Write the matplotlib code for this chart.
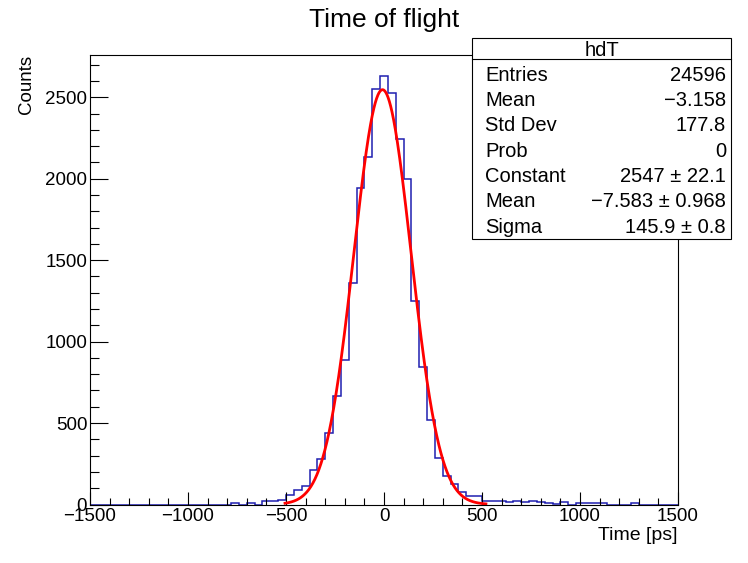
import numpy as np
import matplotlib
matplotlib.use('Agg')
import matplotlib.pyplot as plt
from matplotlib.patches import Rectangle
from matplotlib.lines import Line2D
from matplotlib.ticker import MultipleLocator

plt.rcParams['font.family'] = ['Liberation Sans', 'DejaVu Sans']

# ---------------- data ----------------
bin_lo, bin_hi, bin_width = -1500, 1500, 40
counts = [0] * 18 + [
    7, 0, 7, 0, 22, 22, 30, 57, 88, 112,
    212, 277, 440, 664, 886, 1358, 1943, 2133, 2553, 2629,
    2529, 2242, 1996, 1252, 846, 519, 284, 175, 125, 74,
    50, 50, 23, 23, 22, 13, 22, 17, 22, 14,
    12, 6, 14, 0, 7, 7, 7, 7, 0, 0,
    0, 7, 0, 0, 0, 0, 0,
]
fit_constant, fit_mean, fit_sigma = 2547.0, -7.583, 145.9
fit_range = (-505, 520)

stats_title = "hdT"
stats_names = ["Entries", "Mean", "Std Dev", "Prob", "Constant", "Mean", "Sigma"]
stats_values = ["24596", "\u22123.158", "177.8", "0", "2547 \u00b1 22.1",
                "\u22127.583 \u00b1 0.968", "145.9 \u00b1 0.8"]

x_ticks = [-1500, -1000, -500, 0, 500, 1000, 1500]
y_ticks = [0, 500, 1000, 1500, 2000, 2500]

# ---------------- figure ----------------
W, H = 748, 563
fig = plt.figure(figsize=(W / 100, H / 100), dpi=100)
fx = lambda x: x / W
fy = lambda y: 1 - y / H

ax_l, ax_r, ax_t, ax_b = 90, 678, 55, 504.5
ax = fig.add_axes([fx(ax_l), fy(ax_b), (ax_r - ax_l) / W, (ax_b - ax_t) / H])

edges = np.arange(bin_lo, bin_hi + bin_width / 2, bin_width)
ax.stairs(counts, edges, color='#1f1fb0', lw=1.1, baseline=0)

xf = np.linspace(fit_range[0], fit_range[1], 600)
yf = fit_constant * np.exp(-0.5 * ((xf - fit_mean) / fit_sigma) ** 2)
ax.plot(xf, yf, color='#ff0000', lw=2.0)

ax.set_xlim(bin_lo, bin_hi)
ax.set_ylim(0, 2760)
ax.set_xticks(x_ticks)
ax.set_yticks(y_ticks)
ax.xaxis.set_minor_locator(MultipleLocator(100))
ax.yaxis.set_minor_locator(MultipleLocator(100))
ax.tick_params(axis='both', which='both', direction='in', top=False, right=False,
               width=0.8, labelsize=13.5)
ax.tick_params(axis='x', which='major', length=9.4, pad=2.5)
ax.tick_params(axis='x', which='minor', length=4.7)
ax.tick_params(axis='y', which='major', length=13, pad=2)
ax.tick_params(axis='y', which='minor', length=6.5)
for s in ax.spines.values():
    s.set_linewidth(0.8)

# titles
fig.text(fx((ax_l + ax_r) / 2), fy(26.7), "Time of flight", ha='center',
         va='baseline', fontsize=19)
fig.text(fx(677), fy(540), "Time [ps]", ha='right', va='baseline', fontsize=14)
fig.text(fx(26), fy(55), "Counts", rotation=90, ha='center', va='top', fontsize=13.5)

# stats box
bx0, bx1, by0, by1 = 472, 731, 37.5, 238.5
fig.patches.append(Rectangle((fx(bx0), fy(by1)), (bx1 - bx0) / W, (by1 - by0) / H,
                             transform=fig.transFigure, facecolor='white',
                             edgecolor='black', lw=0.8, zorder=10))
fig.lines.append(Line2D([fx(bx0), fx(bx1)], [fy(59.3), fy(59.3)],
                        transform=fig.transFigure, color='black', lw=0.8, zorder=11))
fig.text(fx((bx0 + bx1) / 2), fy(56.5), stats_title, ha='center', va='baseline',
         fontsize=14.5, zorder=12)
for i, (n, v) in enumerate(zip(stats_names, stats_values)):
    yb = 80.7 + i * 25.33
    fig.text(fx(485), fy(yb), n, ha='left', va='baseline', fontsize=14.5, zorder=12)
    fig.text(fx(726), fy(yb), v, ha='right', va='baseline', fontsize=14.5, zorder=12)

fig.savefig('out.png', dpi=100)
